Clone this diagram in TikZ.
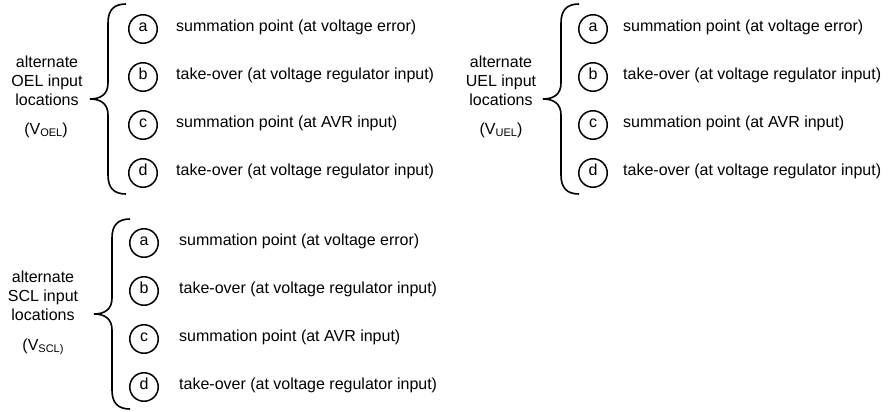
\documentclass[tikz,border=0pt]{standalone}
\usepackage{fontspec}
\setmainfont{Liberation Sans}
\newcommand{\subtxt}[1]{\raisebox{-1.5pt}{\fontsize{11}{11}\selectfont #1}}
\begin{document}
\begin{tikzpicture}[x=1pt,y=-1pt,
  txt/.style={font=\fontsize{16}{19}\selectfont, inner sep=0pt},
  item/.style={txt, anchor=mid west},
  lbl/.style={txt, align=center, anchor=center},
  letter/.style={txt, circle, draw, line width=1.5pt, minimum size=28.5pt,
    text height=0.72em, text depth=0.2em},
  bracepath/.style={line width=1.6pt},
  curlybrace/.pic={
    \draw[bracepath] (36,-95) .. controls (24,-95) and (18,-89) .. (18,-76)
      -- (18,-16) .. controls (18,-5) and (11,0) .. (0,0)
      .. controls (11,0) and (18,5) .. (18,16)
      -- (18,76) .. controls (18,89) and (24,95) .. (36,95);
  }]
\useasboundingbox (0,0) rectangle (889,412);

% ---------- OEL group ----------
\node[lbl] (oellbl) at (47,80.5) {alternate\\OEL input\\locations};
\node[txt, anchor=mid] (oelv) at (46,132) {(V\subtxt{OEL})};
\pic (oelbrace) at (90,99) {curlybrace};
\node[letter] (oela) at (143,29) {a};
\node[letter] (oelb) at (143,77) {b};
\node[letter] (oelc) at (143,125) {c};
\node[letter] (oeld) at (143,173) {d};
\node[item] (oelta) at (176,29) {summation point (at voltage error)};
\node[item] (oeltb) at (176,77) {take-over (at voltage regulator input)};
\node[item] (oeltc) at (176,125) {summation point (at AVR input)};
\node[item] (oeltd) at (176,173) {take-over (at voltage regulator input)};

% ---------- UEL group ----------
\node[lbl] (uellbl) at (501,80.5) {alternate\\UEL input\\locations};
\node[txt, anchor=mid] (uelv) at (501,132) {(V\subtxt{UEL})};
\pic (uelbrace) at (543,99) {curlybrace};
\node[letter] (uela) at (593,29) {a};
\node[letter] (uelb) at (593,77) {b};
\node[letter] (uelc) at (593,125) {c};
\node[letter] (ueld) at (593,173) {d};
\node[item] (uelta) at (623,29) {summation point (at voltage error)};
\node[item] (ueltb) at (623,77) {take-over (at voltage regulator input)};
\node[item] (ueltc) at (623,125) {summation point (at AVR input)};
\node[item] (ueltd) at (623,173) {take-over (at voltage regulator input)};

% ---------- SCL group ----------
\node[lbl] (scllbl) at (43,295.5) {alternate\\SCL input\\locations};
\node[txt, anchor=mid] (sclv) at (43,348) {(V\subtxt{SCL)}};
\pic (sclbrace) at (94,314) {curlybrace};
\node[letter] (scla) at (144,243) {a};
\node[letter] (sclb) at (144,291) {b};
\node[letter] (sclc) at (144,339) {c};
\node[letter] (scld) at (144,387) {d};
\node[item] (sclta) at (179,243) {summation point (at voltage error)};
\node[item] (scltb) at (179,291) {take-over (at voltage regulator input)};
\node[item] (scltc) at (179,339) {summation point (at AVR input)};
\node[item] (scltd) at (179,387) {take-over (at voltage regulator input)};
\end{tikzpicture}
\end{document}
